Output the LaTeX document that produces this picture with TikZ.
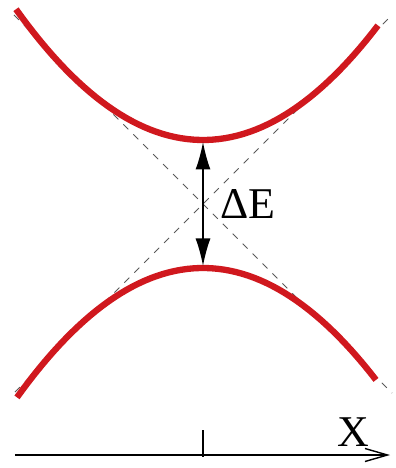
\documentclass[tikz,border=0pt]{standalone}
\usepackage{fontspec}
\setmainfont{Liberation Serif}
\usetikzlibrary{arrows.meta}
\definecolor{levelred}{RGB}{208,24,30}

\begin{document}
\begin{tikzpicture}[
    level/.style={levelred, line width=3.6pt},
    asym/.style={black!65, line width=0.45pt, dash pattern=on 4pt off 4pt},
    big/.style={font=\fontsize{25}{29}\selectfont}]
  \useasboundingbox (-4.06,-5.28) rectangle (3.86,4.08);

  % asymptotes
  \draw[asym] (-3.78,3.78) -- (3.78,-3.78);
  \draw[asym] (-3.76,-3.76) -- (3.74,3.74);

  % the two levels
  \draw[level] plot[domain=-3.74:3.5,  samples=60] (\x, {1.28+0.187*\x*\x});
  \draw[level] plot[domain=-3.72:3.46, samples=60] (\x, {-1.28-0.187*\x*\x});

  \coordinate (top) at (0,1.24);
  \coordinate (bottom) at (0,-1.24);
  \draw[line width=0.8pt, {Latex[length=0.55cm,width=0.3cm]}-{Latex[length=0.55cm,width=0.3cm]}] (top) -- (bottom);
  \node[big] (gap) at (0.9,0) {ΔE};

  % x axis
  \coordinate (xstart) at (-3.76,-5.02);
  \coordinate (xend) at (3.74,-5.02);
  \draw[line width=0.8pt, -{Straight Barb[length=0.45cm,width=0.26cm]}] (xstart) -- (xend);
  \draw[line width=0.8pt] (0,-4.52) -- ++(0,-0.54);
  \node[big] (xlabel) at (3.0,-4.56) {X};
\end{tikzpicture}
\end{document}
